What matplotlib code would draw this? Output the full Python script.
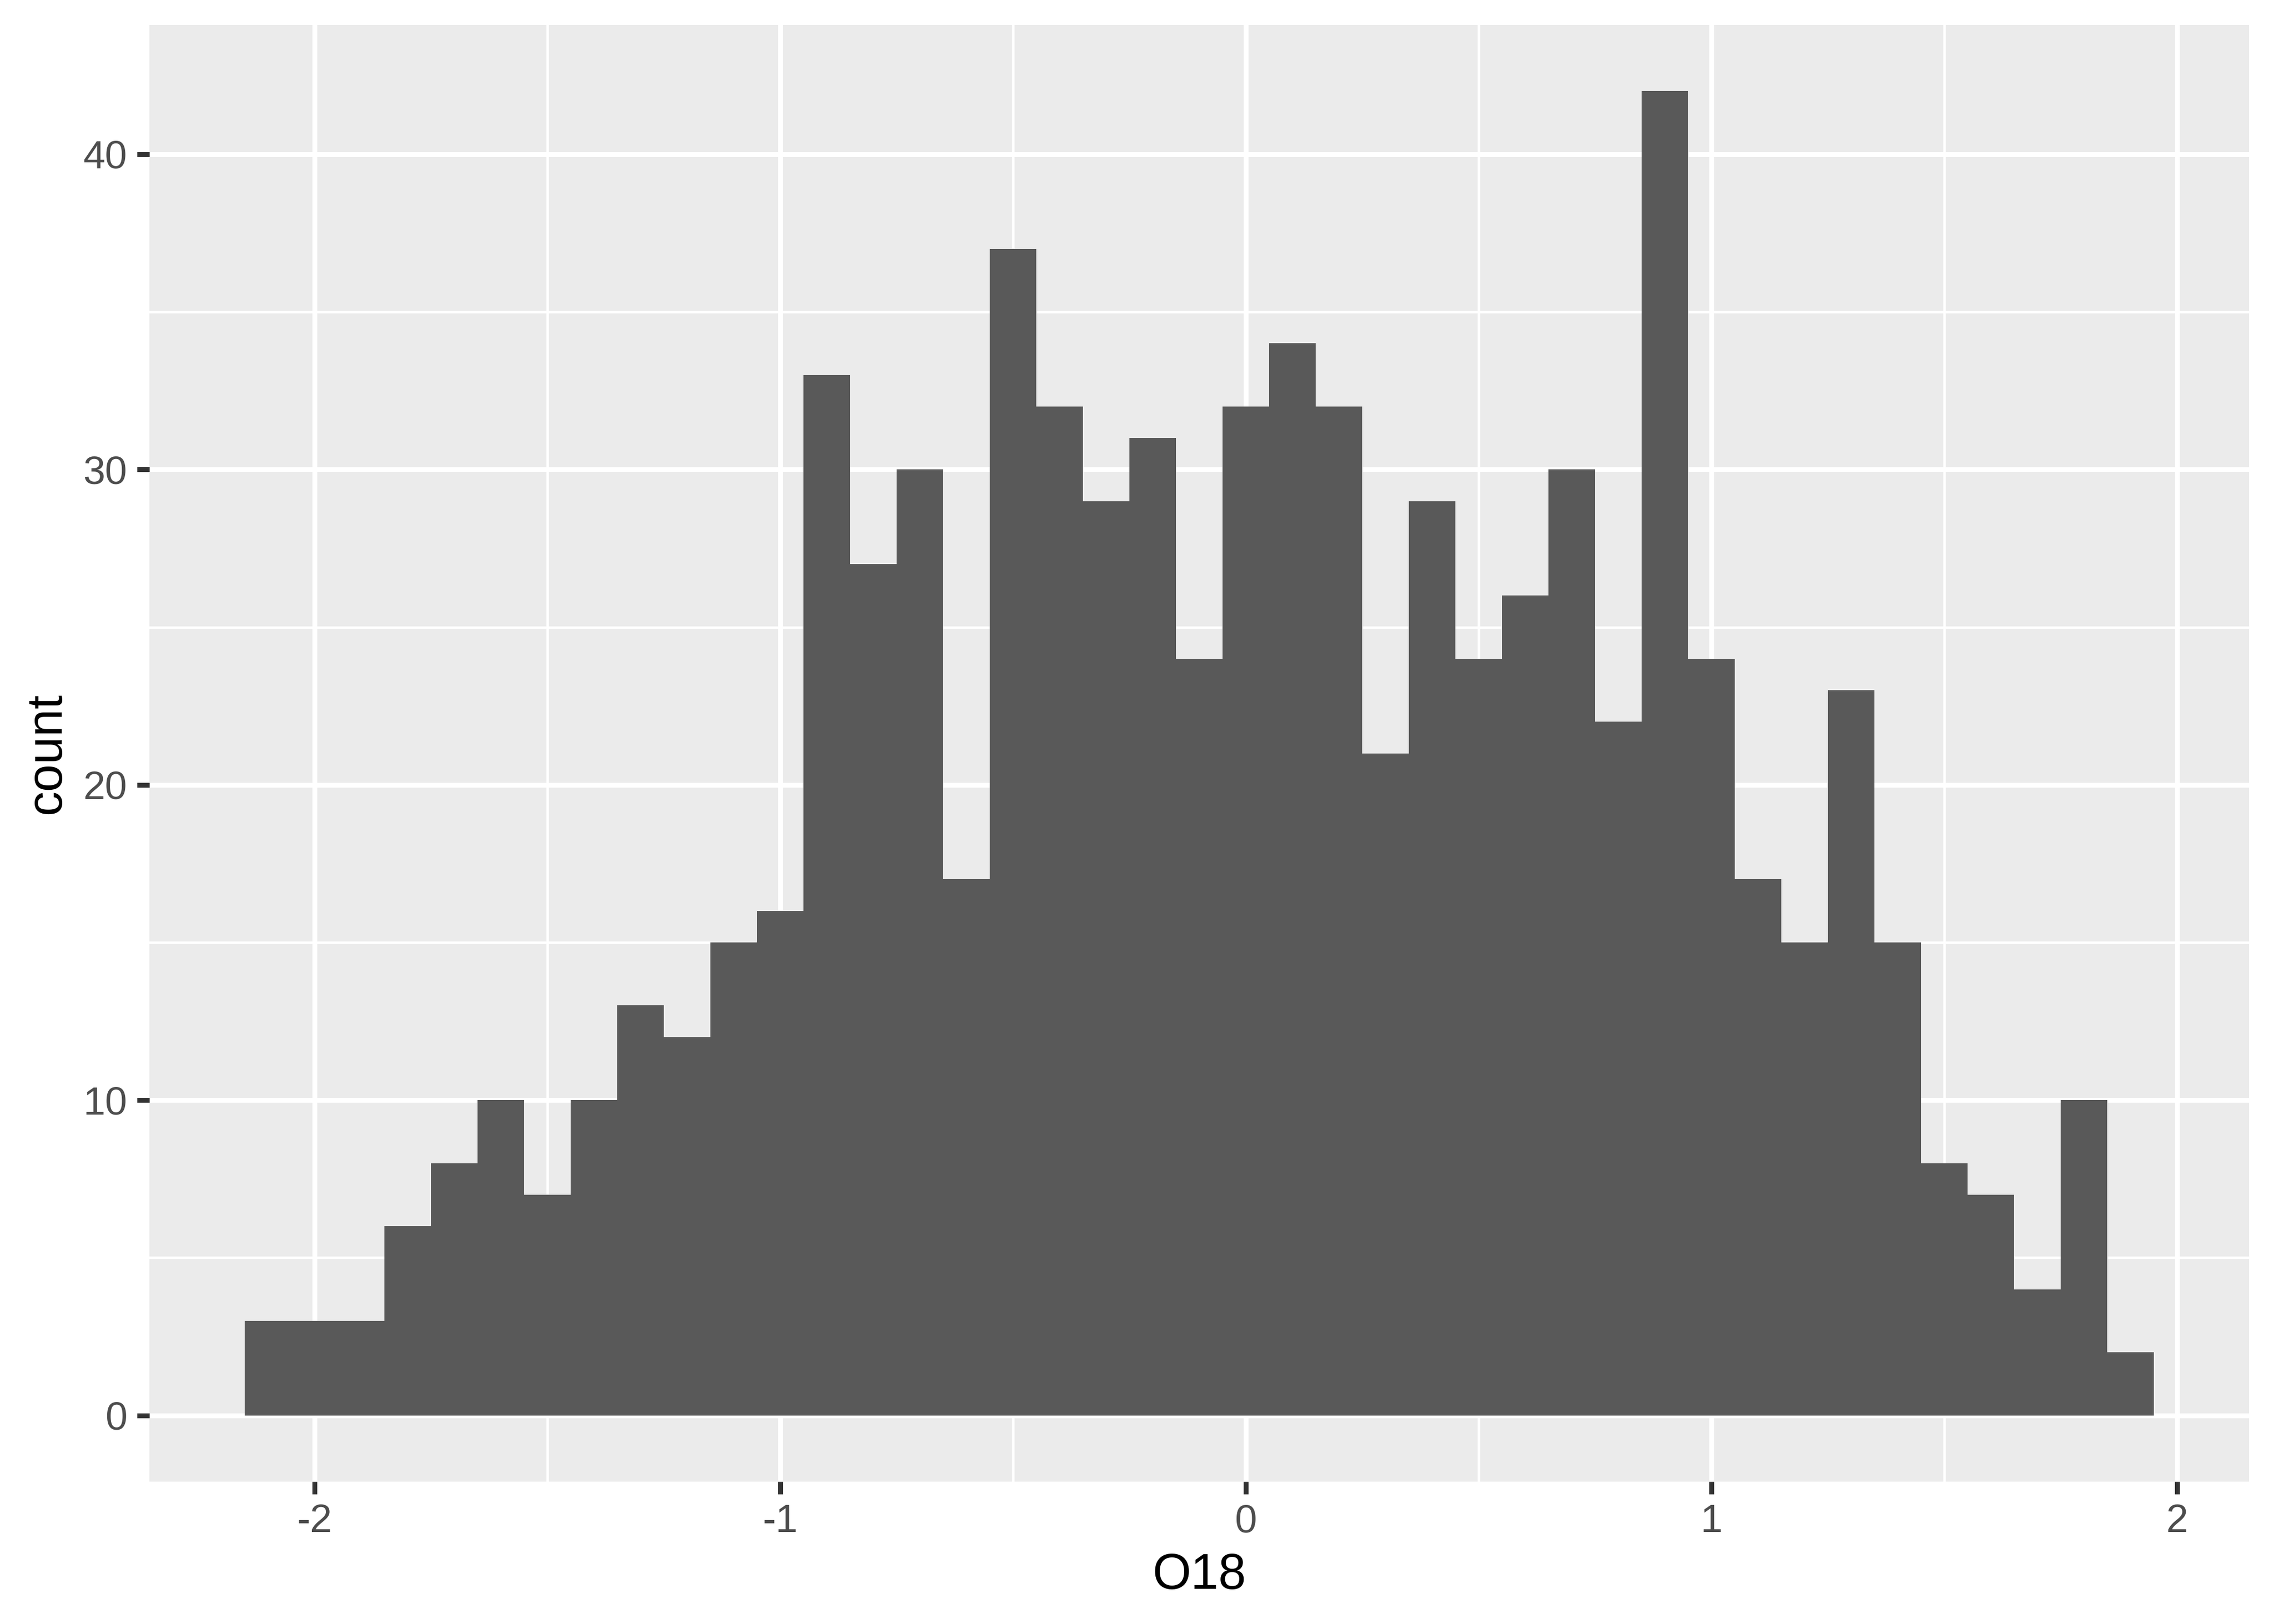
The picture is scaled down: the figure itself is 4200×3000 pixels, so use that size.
import numpy as np
import matplotlib
matplotlib.use("Agg")
import matplotlib.pyplot as plt
from matplotlib.ticker import FixedLocator

plt.rcParams['font.family'] = ['Liberation Sans', 'DejaVu Sans']

# Histogram of O18 (binwidth 0.1)
bin_start = -2.15
bin_width = 0.1
counts = [3, 3, 3, 6, 8, 10, 7, 10, 13, 12, 15, 16, 33, 27, 30, 17, 37, 32, 29, 31,
          24, 32, 34, 32, 21, 29, 24, 26, 30, 22, 42, 24, 17, 15, 23, 15, 8, 7, 4, 10, 2]
x_ticks = [-2, -1, 0, 1, 2]
x_tick_labels = ["-2", "-1", "0", "1", "2"]
y_ticks = [0, 10, 20, 30, 40]
y_tick_labels = ["0", "10", "20", "30", "40"]
x_minor = [-1.5, -0.5, 0.5, 1.5]
y_minor = [5, 15, 25, 35]

edges = bin_start + bin_width * np.arange(len(counts))
lo, hi = bin_start, bin_start + bin_width * len(counts)
pad_x = 0.05 * (hi - lo)
ymax = max(counts)
pad_y = 0.05 * ymax

fig = plt.figure(figsize=(14, 10), dpi=300)
ax = fig.add_axes([276 / 4200, 263 / 3000, (4154 - 276) / 4200, 2691 / 3000])
ax.set_facecolor('#EBEBEB')
for s in ax.spines.values():
    s.set_visible(False)

ax.bar(edges, counts, width=bin_width, align='edge', color='#595959',
       linewidth=0, zorder=3)

ax.set_xlim(lo - pad_x, hi + pad_x)
ax.set_ylim(-pad_y, ymax + pad_y)

ax.set_xticks(x_ticks)
ax.set_xticklabels(x_tick_labels)
ax.set_yticks(y_ticks)
ax.set_yticklabels(y_tick_labels)
ax.xaxis.set_minor_locator(FixedLocator(x_minor))
ax.yaxis.set_minor_locator(FixedLocator(y_minor))

ax.grid(which='major', color='white', linewidth=2.16, zorder=1)
ax.grid(which='minor', color='white', linewidth=1.08, zorder=1)
ax.set_axisbelow(True)

ax.tick_params(which='major', length=5.5, width=2.16, color='#333333',
               labelsize=17.6, labelcolor='#4D4D4D', pad=4.4)
ax.tick_params(which='minor', length=0)

ax.set_xlabel('O18', fontsize=22, color='black', labelpad=5.5)
ax.set_ylabel('count', fontsize=22, color='black', labelpad=5.5)

fig.savefig('out.png', dpi=300, facecolor='white')
